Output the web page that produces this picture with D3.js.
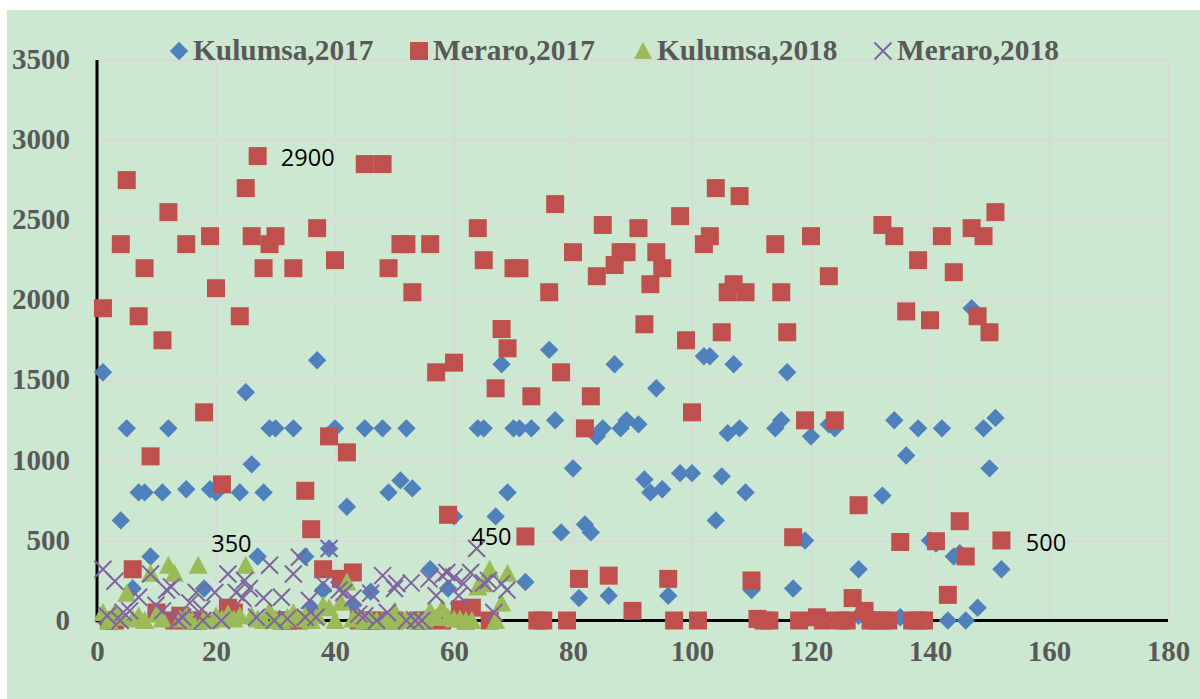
<!DOCTYPE html>
<html><head><meta charset="utf-8">
<script src="https://cdn.jsdelivr.net/npm/d3@7"></script>
<style>html,body{margin:0;padding:0;background:#fff}svg{display:block}</style>
</head><body><svg id="c" width="1200" height="699"></svg>
<script>
const xTicks=[0,20,40,60,80,100,120,140,160,180];
const yTicks=[0,500,1000,1500,2000,2500,3000,3500];
const seriesNames=["Kulumsa,2017","Meraro,2017","Kulumsa,2018","Meraro,2018"];
const kulumsa2017=[[1,1550],[4,625],[5,1200],[6,200],[7,800],[8,800],[9,400],[11,800],[12,1200],[15,820],[18,200],[19,820],[20,800],[22,60],[24,800],[25,1425],[26,975],[27,400],[28,800],[29,1200],[30,1200],[33,1200],[35,400],[36,80],[37,1625],[38,190],[39,450],[40,1200],[42,710],[43,100],[45,1200],[46,180],[48,1200],[49,800],[51,875],[52,1200],[53,825],[56,320],[59,200],[60,650],[64,1200],[65,1200],[67,650],[68,1600],[69,800],[70,1200],[71,1200],[72,240],[73,1200],[76,1690],[77,1250],[78,550],[80,950],[81,140],[82,600],[83,550],[84,1150],[85,1200],[86,155],[87,1600],[88,1200],[89,1250],[91,1225],[92,880],[93,800],[94,1450],[95,820],[96,155],[98,920],[100,920],[102,1650],[103,1650],[104,625],[105,900],[106,1170],[107,1600],[108,1200],[109,800],[110,190],[114,1200],[115,1250],[116,1550],[117,200],[119,500],[120,1150],[123,1225],[124,1200],[128,320],[128,30],[132,780],[134,1250],[135,20],[136,1030],[138,1200],[140,500],[141,480],[142,1200],[143,0],[144,400],[145,420],[146,0],[147,1950],[148,80],[149,1200],[150,950],[151,1265],[152,320]];
const meraro2017=[[1,1950],[2,0],[3,0],[4,2350],[5,2750],[6,320],[7,1900],[8,2200],[9,1025],[10,50],[11,1750],[12,2550],[13,0],[14,30],[15,2350],[16,0],[17,0],[18,1300],[19,2400],[20,2075],[21,850],[22,80],[23,50],[24,1900],[25,2700],[26,2400],[27,2900],[28,2200],[29,2350],[30,2400],[31,0],[32,0],[33,2200],[34,0],[35,810],[36,570],[37,2450],[38,320],[39,1150],[40,2250],[41,260],[42,1050],[43,300],[44,0],[45,2850],[46,0],[47,0],[48,2850],[49,2200],[50,0],[51,2350],[52,2350],[53,2050],[54,0],[55,0],[56,2350],[57,1550],[58,0],[59,660],[60,1610],[61,70],[62,0],[63,80],[64,2450],[65,2250],[66,0],[67,1450],[68,1820],[69,1700],[70,2200],[71,2200],[72,525],[73,1400],[74,0],[75,0],[76,2050],[77,2600],[78,1550],[79,0],[80,2300],[81,260],[82,1200],[83,1400],[84,2150],[85,2470],[86,280],[87,2220],[88,2300],[89,2300],[90,60],[91,2450],[92,1850],[93,2100],[94,2300],[95,2200],[96,260],[97,0],[98,2525],[99,1750],[100,1300],[101,0],[102,2350],[103,2400],[104,2700],[105,1800],[106,2050],[107,2100],[108,2650],[109,2050],[110,250],[111,10],[112,0],[113,0],[114,2350],[115,2050],[116,1800],[117,520],[118,0],[119,1250],[120,2400],[121,20],[122,0],[123,2150],[124,1250],[125,0],[126,0],[127,140],[128,720],[129,60],[130,0],[131,0],[132,2470],[132,0],[133,0],[134,2400],[135,490],[136,1930],[137,0],[138,2250],[138,0],[139,0],[140,1875],[141,495],[142,2400],[143,160],[144,2175],[145,620],[146,400],[147,2450],[148,1900],[149,2400],[150,1800],[151,2550],[152,500]];
const kulumsa2018=[[1,50],[2,0],[3,50],[4,20],[5,170],[6,10],[7,30],[8,0],[9,295],[10,40],[11,10],[12,345],[13,295],[14,10],[15,30],[16,0],[17,345],[18,10],[19,0],[20,30],[21,10],[22,40],[23,10],[24,30],[25,345],[26,30],[27,10],[28,0],[29,60],[30,10],[31,0],[32,20],[33,50],[34,10],[35,30],[36,0],[37,30],[38,95],[39,80],[40,0],[41,115],[42,240],[43,10],[44,20],[45,0],[46,10],[47,0],[48,0],[49,10],[50,60],[51,0],[52,10],[53,0],[54,0],[55,10],[56,60],[57,20],[58,75],[59,20],[60,10],[61,10],[62,0],[63,0],[64,210],[65,230],[66,320],[67,0],[68,110],[69,295]];
const meraro2018=[[1,320],[1.7,30],[3,245],[3.9,0],[4.4,50],[5.5,60],[7,145],[9,290],[9.9,95],[11,60],[11.7,190],[12.5,210],[13.6,0],[14.4,20],[15.6,110],[16.7,175],[17.6,70],[17.8,0],[19.8,175],[20.9,0],[22,290],[23.4,175],[24.5,140],[24.8,250],[25.6,200],[26.8,20],[28,140],[29,345],[29.8,0],[31,145],[32,10],[33,290],[34,395],[35,20],[35.7,125],[36.8,20],[38,230],[39,450],[40.7,190],[41.5,175],[43,140],[44,40],[45,30],[46,170],[47,0],[48,280],[48.8,50],[50,200],[50.4,230],[52,0],[52.8,235],[53.5,0],[54.6,0],[55.8,260],[57,155],[58,280],[58.8,300],[60,270],[60.8,155],[61.6,230],[62.8,300],[63.8,450],[65,235],[65.8,250],[66.7,50],[68,230],[68.9,190]];
const annotations=[[30.9,2890,"2900"],[19.2,478,"350"],[62.9,522,"450"],[156.1,485,"500"]];
const colors=["#4f81bd","#c0504d","#9bbb59","#8064a2"];

const svg=d3.select("#c");
const x=d3.scaleLinear().domain([0,180]).range([97,1168]);
const y=d3.scaleLinear().domain([0,3500]).range([620.5,60]);
svg.append("rect").attr("x",7).attr("y",10).attr("width",1193).attr("height",689).attr("fill","#cde8d1");

const yAxis=d3.axisLeft(y).tickValues(yTicks).tickFormat(d3.format("d")).tickSize(-(x.range()[1]-x.range()[0])).tickPadding(26);
const xAxis=d3.axisBottom(x).tickValues(xTicks).tickFormat(d3.format("d")).tickSize(-(y.range()[0]-y.range()[1])).tickPadding(26);
const fontS="'Liberation Serif',serif";
const gy=svg.append("g").attr("transform","translate(97,0)").call(yAxis);
const gx=svg.append("g").attr("transform","translate(0,620.5)").call(xAxis);
[gx,gy].forEach(g=>{
  g.select(".domain").remove();
  g.selectAll(".tick line").attr("stroke","#d9d9d9").attr("stroke-width",2);
  g.selectAll(".tick text").attr("fill","#595959").attr("font-family",fontS).attr("font-weight","bold").attr("font-size",29);
});
gy.selectAll(".tick text").attr("x",-27).attr("dy","0.3em");
gx.selectAll(".tick text").attr("y",20);

const axes=svg.append("g");
axes.append("line").attr("x1",x(0)).attr("x2",x(0)).attr("y1",y(3500)).attr("y2",y(0)+2).attr("stroke","#000").attr("stroke-width",3);
axes.append("line").attr("x1",x(0)).attr("x2",x(180)).attr("y1",y(0)).attr("y2",y(0)).attr("stroke","#000").attr("stroke-width",3);

const shape={
 diamond:(s)=>`M0,${-s}L${s},0L0,${s}L${-s},0Z`,
 square:(s)=>`M${-s},${-s}H${s}V${s}H${-s}Z`,
 tri:(s)=>`M0,${-s}L${s},${s*0.9}H${-s}Z`,
 cross:(s)=>`M${-s},${-s}L${s},${s}M${s},${-s}L${-s},${s}`
};
const kinds=[["diamond",9.2],["square",9],["tri",9.5],["cross",8.5]];
function marker(sel,i){
  const [k,s]=kinds[i];
  sel.attr("d",shape[k](s));
  if(k==="cross") sel.attr("fill","none").attr("stroke",colors[i]).attr("stroke-width",2);
  else sel.attr("fill",colors[i]);
}
[kulumsa2017,meraro2017,kulumsa2018,meraro2018].forEach((data,i)=>{
  svg.append("g").selectAll("path").data(data).join("path")
    .attr("transform",d=>`translate(${x(d[0])},${y(d[1])})`).call(marker,i);
});
svg.append("g").selectAll("text").data(annotations).join("text")
  .attr("x",d=>x(d[0])).attr("y",d=>y(d[1])).attr("dy","0.35em")
  .attr("font-family","'Open Sans',sans-serif").attr("font-size",23.5).attr("fill","#000").text(d=>d[2]);

const legendX=[179,419,643,883];
const leg=svg.append("g").selectAll("g").data(seriesNames).join("g")
  .attr("transform",(d,i)=>`translate(${legendX[i]},51)`);
leg.append("path").each(function(d,i){
  const [k]=kinds[i];
  d3.select(this).call(marker,i);
  if(k==="tri") d3.select(this).attr("d",shape.tri(9));
});
leg.append("text").attr("x",14).attr("y",0).attr("dy","0.3em")
  .attr("font-family",fontS).attr("font-weight","bold").attr("font-size",29.4).attr("fill","#595959").text(d=>d);
</script></body></html>
